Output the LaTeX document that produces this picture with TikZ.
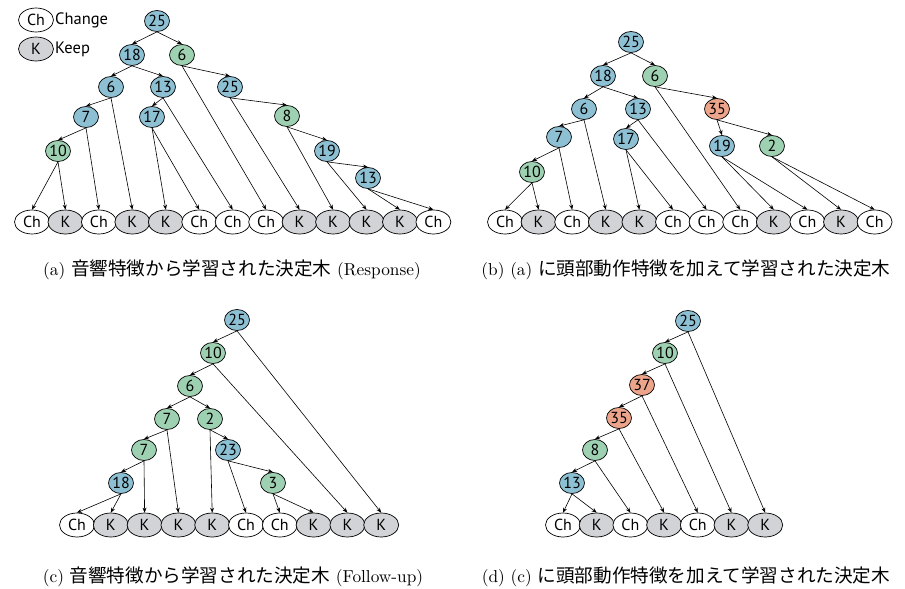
\documentclass[tikz,border=0pt]{standalone}
\usepackage{fontspec}
\newfontfamily\nf{PT Sans}
\newfontfamily\jp{Noto Sans CJK JP}
\newfontfamily\capfont{lmroman10-regular}[Extension=.otf]
\usetikzlibrary{arrows.meta,shapes.geometric}
\definecolor{nblue}{RGB}{142,192,212}
\definecolor{ngreen}{RGB}{158,209,178}
\definecolor{nsalmon}{RGB}{236,164,138}
\definecolor{kgray}{RGB}{210,211,214}
\newcommand{\jptext}[1]{{\jp\fontsize{18.6}{20}\selectfont #1}}
\begin{document}
\begin{tikzpicture}[x=1pt,y=-1pt,
  inode/.style={ellipse,draw,line width=0.7pt,minimum width=25pt,minimum height=21pt,inner sep=0pt,font=\nf\fontsize{16}{16}\selectfont},
  nb/.style={inode,fill=nblue},
  ng/.style={inode,fill=ngreen},
  ns/.style={inode,fill=nsalmon},
  leafnode/.style={ellipse,draw,line width=0.7pt,minimum width=35pt,minimum height=24pt,inner sep=0pt,font=\nf\fontsize{16}{16}\selectfont},
  lch/.style={leafnode,fill=white},
  lk/.style={leafnode,fill=kgray},
  edge/.style={-{Stealth[length=5pt,width=4pt]},line width=0.6pt},
  legtext/.style={anchor=west,inner sep=0pt,font=\nf\fontsize{16.5}{16.5}\selectfont},
  captext/.style={inner sep=0pt,font=\capfont\fontsize{17.3}{20}\selectfont}
]
\useasboundingbox (0,0) rectangle (905,589);

% legend
\node[lch] (legch) at (36,20) {Ch};
\node[legtext] (legcht) at (55,20) {Change};
\node[lk] (legk) at (36,49) {K};
\node[legtext] (legkt) at (55,49) {Keep};

% ---------- tree (a)
\node[nb] (a25) at (157,21) {25};
\node[nb] (a18) at (132,55) {18};
\node[ng] (a6g) at (182,55) {6};
\node[nb] (a6) at (111,87) {6};
\node[nb] (a13) at (163,87) {13};
\node[nb] (a25b) at (230,87) {25};
\node[nb] (a7) at (86,117) {7};
\node[nb] (a17) at (152,117) {17};
\node[ng] (a8) at (287,116) {8};
\node[ng] (a10) at (58,151) {10};
\node[nb] (a19) at (327,151) {19};
\node[nb] (a13b) at (368,178) {13};
\foreach \i/\s/\t [evaluate=\i as \xx using 32+33.45*(\i-1)] in {1/lch/Ch,2/lk/K,3/lch/Ch,4/lk/K,5/lk/K,6/lch/Ch,7/lch/Ch,8/lch/Ch,9/lk/K,10/lk/K,11/lk/K,12/lk/K,13/lch/Ch}
  \node[\s] (aL\i) at (\xx,222) {\t};
\foreach \p/\c in {a25/a18,a25/a6g,a18/a6,a18/a13,a6g/a25b,a6g/aL8,a6/a7,a6/aL4,a13/a17,a13/aL7,a25b/a8,a25b/aL9,a7/a10,a7/aL3,a17/aL5,a17/aL6,a8/a19,a8/aL10,a10/aL1,a10/aL2,a19/a13b,a19/aL11,a13b/aL12,a13b/aL13}
  \draw[edge] (\p.south) -- (\c.north);

% ---------- tree (b)
\node[nb] (b25) at (631,42) {25};
\node[nb] (b18) at (603,76) {18};
\node[ng] (b6g) at (655,76) {6};
\node[nb] (b6) at (584,109) {6};
\node[nb] (b13) at (638,109) {13};
\node[ns] (b35) at (717,109) {35};
\node[nb] (b7) at (559,137) {7};
\node[nb] (b17) at (626,139) {17};
\node[nb] (b19) at (722,146) {19};
\node[ng] (b2) at (772,146) {2};
\node[ng] (b10) at (532,172) {10};
\foreach \i/\s/\t [evaluate=\i as \xx using 505+33.6*(\i-1)] in {1/lch/Ch,2/lk/K,3/lch/Ch,4/lk/K,5/lk/K,6/lch/Ch,7/lch/Ch,8/lch/Ch,9/lk/K,10/lch/Ch,11/lk/K,12/lch/Ch}
  \node[\s] (bL\i) at (\xx,222) {\t};
\foreach \p/\c in {b25/b18,b25/b6g,b18/b6,b18/b13,b6g/b35,b6g/bL8,b6/b7,b6/bL4,b13/b17,b13/bL7,b35/b19,b35/b2,b7/b10,b7/bL3,b17/bL5,b17/bL6,b10/bL1,b10/bL2,b19/bL9,b19/bL10,b2/bL11,b2/bL12}
  \draw[edge] (\p.south) -- (\c.north);

% ---------- tree (c)
\node[nb] (c25) at (237,320) {25};
\node[ng] (c10) at (213,353) {10};
\node[ng] (c6) at (190,386) {6};
\node[ng] (c7a) at (167,419) {7};
\node[ng] (c2) at (210,419) {2};
\node[ng] (c7b) at (144,450) {7};
\node[nb] (c23) at (228,450) {23};
\node[nb] (c18) at (121,483) {18};
\node[ng] (c3) at (273,483) {3};
\foreach \i/\s/\t [evaluate=\i as \xx using 77+33.8*(\i-1)] in {1/lch/Ch,2/lk/K,3/lk/K,4/lk/K,5/lk/K,6/lch/Ch,7/lch/Ch,8/lk/K,9/lk/K,10/lk/K}
  \node[\s] (cL\i) at (\xx,525) {\t};
\foreach \p/\c in {c25/c10,c25/cL10,c10/c6,c10/cL9,c6/c7a,c6/c2,c7a/c7b,c7a/cL4,c2/cL5,c2/c23,c7b/c18,c7b/cL3,c23/cL6,c23/c3,c18/cL1,c18/cL2,c3/cL7,c3/cL8}
  \draw[edge] (\p.south) -- (\c.north);

% ---------- tree (d)
\node[nb] (d25) at (688,321) {25};
\node[ng] (d10) at (665,353) {10};
\node[ns] (d37) at (642,385) {37};
\node[ns] (d35) at (619,418) {35};
\node[ng] (d8) at (595,450) {8};
\node[nb] (d13) at (572,483) {13};
\foreach \i/\s/\t [evaluate=\i as \xx using 563+33.7*(\i-1)] in {1/lch/Ch,2/lk/K,3/lch/Ch,4/lk/K,5/lch/Ch,6/lk/K,7/lk/K}
  \node[\s] (dL\i) at (\xx,525) {\t};
\foreach \p/\c in {d25/d10,d25/dL7,d10/d37,d10/dL6,d37/d35,d37/dL5,d35/d8,d35/dL4,d8/d13,d8/dL3,d13/dL1,d13/dL2}
  \draw[edge] (\p.south) -- (\c.north);

% captions
\node[captext] (capa) at (232,270) {(a) \jptext{音響特徴から学習された決定木} (Response)};
\node[captext] (capb) at (686,270) {(b) (a) \jptext{に頭部動作特徴を加えて学習された決定木}};
\node[captext] (capc) at (233,577) {(c) \jptext{音響特徴から学習された決定木} (Follow-up)};
\node[captext] (capd) at (686,577) {(d) (c) \jptext{に頭部動作特徴を加えて学習された決定木}};
\end{tikzpicture}
\end{document}
